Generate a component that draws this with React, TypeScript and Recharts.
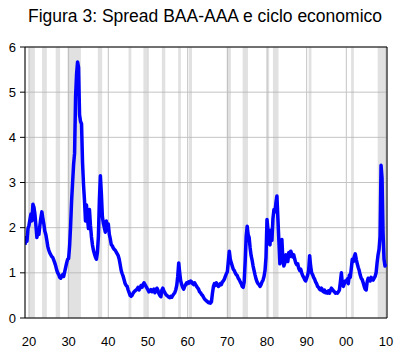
import React from 'react';
import { LineChart, Line, XAxis, YAxis, CartesianGrid, ReferenceArea, ReferenceLine } from 'recharts';

// Quarterly BAA-AAA spread, starting 1919 Q1
const startYear = 1919;
const stepsPerYear = 4;

const spread1910s = [1.62, 1.78, 1.70, 1.98];
const spread1920s = [
  2.05, 2.18, 2.30, 2.15,
  2.52, 2.45, 2.30, 2.05,
  1.78, 1.92, 1.85, 2.05,
  2.22, 2.35, 2.20, 2.08,
  1.92, 1.85, 1.72, 1.58,
  1.50, 1.44, 1.40, 1.36,
  1.34, 1.28, 1.22, 1.15,
  1.06, 1.00, 0.96, 0.90,
  0.88, 0.92, 0.96, 0.92,
  1.02, 1.12, 1.22, 1.30,
];
const spread1930s = [
  1.32, 1.60, 2.05, 2.60,
  3.00, 3.40, 3.65, 4.90,
  5.40, 5.67, 5.55, 4.50,
  4.35, 4.30, 3.45, 2.95,
  2.60, 2.15, 2.50, 2.20,
  1.98, 2.40, 2.05, 1.80,
  1.62, 1.50, 1.42, 1.35,
  1.30, 1.45, 1.80, 2.60,
  3.15, 2.75, 2.25, 2.10,
  2.00, 1.90, 2.15, 1.95,
];
const spread1940s = [
  2.08, 1.85, 1.75, 1.62,
  1.60, 1.55, 1.52, 1.50,
  1.46, 1.42, 1.38, 1.30,
  1.18, 1.05, 0.98, 0.92,
  0.84, 0.76, 0.72, 0.70,
  0.62, 0.56, 0.50, 0.48,
  0.50, 0.55, 0.58, 0.60,
  0.62, 0.64, 0.68, 0.62,
  0.66, 0.72, 0.68, 0.74,
  0.78, 0.74, 0.70, 0.66,
];
const spread1950s = [
  0.62, 0.58, 0.60, 0.63,
  0.58, 0.61, 0.64, 0.56,
  0.60, 0.66, 0.62, 0.54,
  0.50, 0.47, 0.62, 0.66,
  0.60, 0.56, 0.52, 0.50,
  0.48, 0.46, 0.45, 0.48,
  0.46, 0.50, 0.53, 0.56,
  0.62, 0.72, 0.92, 1.22,
  1.00, 0.82, 0.74, 0.68,
  0.64, 0.70, 0.74, 0.78,
];
const spread1960s = [
  0.76, 0.80, 0.78, 0.82,
  0.80, 0.76, 0.74, 0.78,
  0.74, 0.70, 0.67, 0.64,
  0.58, 0.56, 0.52, 0.50,
  0.46, 0.42, 0.40, 0.38,
  0.36, 0.34, 0.35, 0.33,
  0.36, 0.55, 0.70, 0.76,
  0.72, 0.78, 0.74, 0.70,
  0.72, 0.76, 0.74, 0.80,
  0.82, 0.86, 0.92, 0.98,
];
const spread1970s = [
  1.02, 1.25, 1.48, 1.30,
  1.22, 1.15, 1.08, 1.05,
  1.00, 0.96, 0.94, 0.88,
  0.85, 0.80, 0.76, 0.70,
  0.68, 0.80, 1.25, 1.80,
  2.03, 1.85, 1.78, 1.55,
  1.38, 1.28, 1.15, 1.05,
  0.95, 0.86, 0.80, 0.76,
  0.74, 0.70, 0.74, 0.80,
  0.84, 0.92, 1.05, 1.35,
];
const spread1980s = [
  2.18, 1.95, 1.65, 1.62,
  1.95, 1.72, 2.20, 2.40,
  2.35, 2.55, 2.70, 2.20,
  1.70, 1.20, 1.45, 1.74,
  1.30, 1.15, 1.22, 1.40,
  1.30, 1.25, 1.45, 1.36,
  1.48, 1.42, 1.35, 1.40,
  1.30, 1.22, 1.18, 1.20,
  1.10, 1.05, 1.08, 1.00,
  0.94, 0.90, 0.85, 0.82,
];
const spread1990s = [
  0.88, 0.95, 1.05, 1.38,
  1.15, 1.00, 0.96, 0.90,
  0.86, 0.80, 0.76, 0.70,
  0.68, 0.64, 0.62, 0.66,
  0.60, 0.58, 0.62, 0.56,
  0.58, 0.55, 0.60, 0.55,
  0.62, 0.66, 0.63, 0.60,
  0.58, 0.55, 0.56, 0.55,
  0.58, 0.62, 0.80, 1.00,
  0.75, 0.70, 0.76, 0.82,
];
const spread2000s = [
  0.80, 0.86, 0.76, 0.95,
  0.90, 1.10, 1.30, 1.25,
  1.36, 1.42, 1.30, 1.20,
  1.12, 1.05, 0.95, 0.88,
  0.85, 0.78, 0.70, 0.64,
  0.62, 0.80, 0.88, 0.84,
  0.82, 0.90, 0.86, 0.84,
  0.88, 0.92, 1.00, 1.22,
  1.40, 1.52, 1.80, 3.38,
  3.10, 1.90, 1.30, 1.15,
];
const spread2010s = [1.20];

// Recession periods (shaded)
const recessionStart = [1920.0, 1923.3, 1926.75, 1929.7, 1937.35, 1945.1, 1948.85, 1953.5, 1957.6, 1960.3, 1969.9, 1973.85, 1980.0, 1981.5, 1990.5, 2001.2, 2007.9];
const recessionEnd = [1921.5, 1924.5, 1927.85, 1933.1, 1938.45, 1945.8, 1949.8, 1954.35, 1958.3, 1961.1, 1970.9, 1975.2, 1980.55, 1982.9, 1991.2, 2001.9, 2010.0];

const xTicks = [1920, 1930, 1940, 1950, 1960, 1970, 1980, 1990, 2000, 2010];
const xTickLabels = ['20', '30', '40', '50', '60', '70', '80', '90', '00', '10'];
const yTicks = [0, 1, 2, 3, 4, 5, 6];
const title = 'Figura 3: Spread BAA-AAA e ciclo economico';

const allValues = [
  ...spread1910s, ...spread1920s, ...spread1930s, ...spread1940s, ...spread1950s,
  ...spread1960s, ...spread1970s, ...spread1980s, ...spread1990s, ...spread2000s, ...spread2010s,
];
const data = allValues.map((v, i) => ({ t: startYear + i / stepsPerYear, v }));

const font = '"Liberation Sans", Arial, sans-serif';

export default function App() {
  return (
    <div style={{ position: 'absolute', left: 0, top: 0, width: 399, height: 352, background: '#fff' }}>
      <svg width={399} height={32} style={{ position: 'absolute', left: 0, top: 0 }}>
        <text x={205} y={22} textAnchor="middle" fontFamily={font} fontSize={17.5} fill="#000">
          {title}
        </text>
      </svg>
      <LineChart width={399} height={352} data={data} margin={{ top: 47, right: 12, left: 0, bottom: 0 }}>
        <CartesianGrid stroke="#c4c4c4" strokeWidth={1} />
        {recessionStart.map((s, i) => (
          <ReferenceArea key={i} x1={s} x2={recessionEnd[i]} y1={0} y2={6} fill="#b0b0b0" fillOpacity={0.38} stroke="none" ifOverflow="hidden" />
        ))}
        <XAxis
          type="number"
          dataKey="t"
          domain={[1919, 2010.25]}
          ticks={xTicks}
          tickFormatter={(t: number) => xTickLabels[xTicks.indexOf(t)]}
          allowDataOverflow
          height={34}
          tickLine={false}
          tickMargin={13}
          axisLine={{ stroke: '#000' }}
          tick={{ fill: '#000', fontSize: 13, fontFamily: font }}
          interval={0}
        />
        <YAxis
          type="number"
          domain={[0, 6]}
          ticks={yTicks}
          width={25}
          tickSize={5}
          tickMargin={4}
          axisLine={{ stroke: '#000' }}
          tickLine={{ stroke: '#000' }}
          tick={{ fill: '#000', fontSize: 13, fontFamily: font }}
          interval={0}
        />
        <ReferenceLine y={6} stroke="#000" />
        <ReferenceLine x={2010.25} stroke="#000" />
        <Line type="linear" dataKey="v" stroke="#0000ff" strokeWidth={3.5} strokeLinejoin="round" dot={false} isAnimationActive={false} />
      </LineChart>
    </div>
  );
}
